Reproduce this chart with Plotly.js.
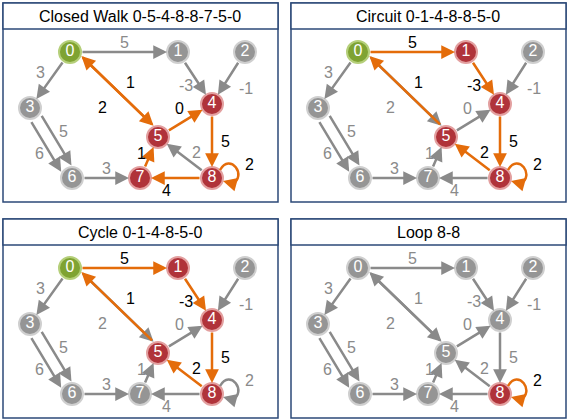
<!DOCTYPE html>
<html><head><meta charset="utf-8">
<script src="https://cdn.plot.ly/plotly-3.0.1.min.js"></script>
<style>body{margin:0}#g{width:569px;height:420px}</style>
</head><body><div id="g"></div>
<script>
// graph nodes (panel-local layout)
var nodeIds = [0, 1, 2, 3, 4, 5, 6, 7, 8];
var nodeX = [70, 178, 245, 30, 212, 158, 72, 140, 212];
var nodeY = [52, 52, 52, 108, 104, 137, 178, 178, 178];
// edges: from, to, weight
var edgeFrom = [0, 0, 0, 5, 1, 2, 3, 3, 5, 4, 8, 8, 7, 6];
var edgeTo   = [1, 3, 5, 0, 4, 4, 6, 6, 4, 8, 5, 7, 5, 7];
var edgeW    = ["5", "3", "2", "1", "-3", "-1", "5", "6", "0", "5", "2", "4", "1", "3"];
var edgeLblDx = [0, -10, -12, 16, -9, 17, 12, -12, -6, 13, 11, -10, -8, 0];
var edgeLblDy = [-10, -8, 13, -12, 7, 10, -12, 10, -12, 0, -5, 12, -4, -10];
var edgePar   = [0, 0, -5, 5, 0, 0, -6, 6, 0, 0, 0, 0, 0, 0];
var loopNode = 8, loopW = "2";

var titles = ["Closed Walk 0-5-4-8-8-7-5-0", "Circuit 0-1-4-8-8-5-0", "Cycle 0-1-4-8-5-0", "Loop 8-8"];
var orange = [[2, 8, 9, 11, 12, 3], [0, 4, 9, 10, 3], [0, 4, 9, 10, 3], []];
var orangeLoop = [true, true, false, true];
var redNodes = [[4, 5, 7, 8], [1, 4, 5, 8], [1, 4, 5, 8], [8]];
var greenNode = [0, 0, 0, -1];
var offX = [0, 288, 0, 288], offY = [0, 0, 216, 216];

var GRAY = "#8a8a8a", ORANGE = "#e46c0a", BLUE = "#2c4a78";
var traces = [], ann = [], shapes = [];

for (var p = 0; p < 4; p++) {
  var ox = offX[p], oy = offY[p];
  shapes.push({type: "rect", x0: ox + 3, x1: ox + 278, y0: oy + 3, y1: oy + 202, line: {color: BLUE, width: 1.5}});
  shapes.push({type: "rect", x0: ox + 3, x1: ox + 278, y0: oy + 3, y1: oy + 29, line: {color: BLUE, width: 1.5}, fillcolor: "white"});
  ann.push({x: ox + 140, y: oy + 16, text: titles[p], showarrow: false, font: {size: 16, color: "black", family: "Liberation Sans"}});

  for (var e = 0; e < edgeFrom.length; e++) {
    var a = edgeFrom[e], b = edgeTo[e];
    var x1 = nodeX[a], y1 = nodeY[a], x2 = nodeX[b], y2 = nodeY[b];
    var dx = x2 - x1, dy = y2 - y1, L = Math.sqrt(dx * dx + dy * dy);
    var px = -dy / L * edgePar[e], py = dx / L * edgePar[e];
    var hot = orange[p].indexOf(e) >= 0;
    var col = hot ? ORANGE : GRAY;
    ann.push({x: ox + x2 + px, y: oy + y2 + py, ax: ox + x1 + px, ay: oy + y1 + py,
      xref: "x", yref: "y", axref: "x", ayref: "y", text: "", showarrow: true,
      arrowhead: 2, arrowsize: 1.1, arrowwidth: 2.5, arrowcolor: col, standoff: 11, startstandoff: 11});
    ann.push({x: ox + (x1 + x2) / 2 + edgeLblDx[e], y: oy + (y1 + y2) / 2 + edgeLblDy[e], text: edgeW[e],
      showarrow: false, font: {size: 16, color: hot ? "black" : GRAY, family: "Liberation Sans"}});
  }
  // self loop
  var lc = orangeLoop[p] ? ORANGE : GRAY;
  var lx = nodeX[loopNode], ly = nodeY[loopNode];
  shapes.push({type: "path", path: "M " + (ox + lx + 8) + " " + (oy + ly - 8) + " C " + (ox + lx + 18) + " " + (oy + ly - 26) + " " + (ox + lx + 36) + " " + (oy + ly - 2) + " " + (ox + lx + 20) + " " + (oy + ly + 6),
    line: {color: lc, width: 2.5}});
  ann.push({x: ox + lx + 11, y: oy + ly + 3, ax: ox + lx + 22, ay: oy + ly + 6, xref: "x", yref: "y", axref: "x", ayref: "y",
    text: "", showarrow: true, arrowhead: 2, arrowsize: 1.1, arrowwidth: 2.5, arrowcolor: lc});
  ann.push({x: ox + lx + 37, y: oy + ly - 14, text: loopW, showarrow: false,
    font: {size: 16, color: orangeLoop[p] ? "black" : GRAY, family: "Liberation Sans"}});

  var fills = [], lines = [];
  for (var n = 0; n < nodeIds.length; n++) {
    if (n === greenNode[p]) { fills.push("#7fa332"); lines.push("#b5cf7a"); }
    else if (redNodes[p].indexOf(n) >= 0) { fills.push("#b0333a"); lines.push("#e3a0a0"); }
    else { fills.push("#959595"); lines.push("#cfcfcf"); }
  }
  traces.push({type: "scatter", mode: "markers+text", x: nodeX.map(function (v) { return v + ox; }), y: nodeY.map(function (v) { return v + oy; }),
    text: nodeIds.map(String), textfont: {color: "white", size: 16, family: "Liberation Sans"},
    marker: {size: 22, color: fills, line: {color: lines, width: 2}}, hoverinfo: "none", cliponaxis: false});
}

Plotly.newPlot("g", traces, {
  width: 569, height: 420, margin: {l: 0, r: 0, t: 0, b: 0}, showlegend: false,
  paper_bgcolor: "white", plot_bgcolor: "white",
  xaxis: {range: [0, 569], visible: false, fixedrange: true},
  yaxis: {range: [420, 0], visible: false, fixedrange: true},
  shapes: shapes, annotations: ann
}, {displayModeBar: false, staticPlot: true});
</script></body></html>
